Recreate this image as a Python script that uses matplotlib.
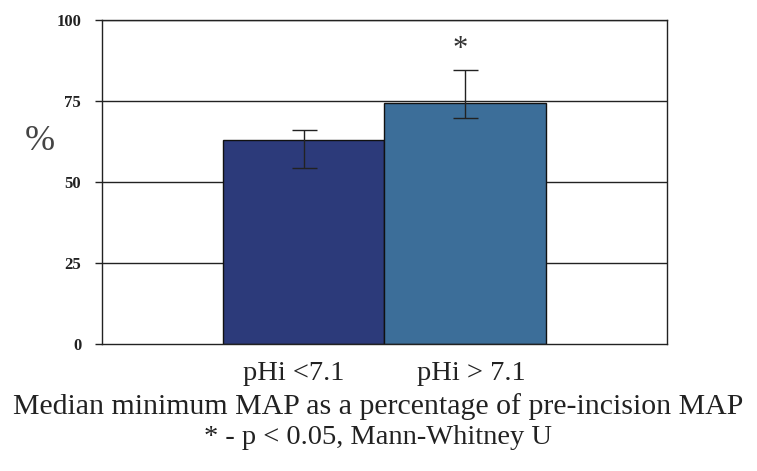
import matplotlib.pyplot as plt
import matplotlib.transforms as mtransforms
import numpy as np

# values (median with asymmetric error bars)
groups = ["pHi <7.1", "pHi > 7.1"]
medians = [63, 74.5]
err_low = [54.3, 69.8]
err_high = [66, 84.6]
bar_colors = ["#2c3a7a", "#3c6e99"]
yticks = [0, 25, 50, 75, 100]

plt.rcParams["font.family"] = ["Liberation Serif", "DejaVu Serif"]

fig = plt.figure(figsize=(7.57, 4.71), dpi=100)
ax = fig.add_axes([102 / 757, 1 - 344 / 471, 565 / 757, 324 / 471])

x = np.arange(len(groups))
lower = np.array(medians) - np.array(err_low)
upper = np.array(err_high) - np.array(medians)

ax.bar(x, medians, width=1.0, color=bar_colors, edgecolor="#111111",
       linewidth=1.0, zorder=2)
ax.errorbar(x, medians, yerr=[lower, upper], fmt="none", ecolor="#222222",
            elinewidth=1.0, capsize=9, capthick=1.0, zorder=3)

# significance marker
ax.text(x[1] - 0.03, 91, "*", ha="center", va="center", fontsize=22,
        color="#333333")

ax.set_xlim(-1.25, 2.25)
ax.set_ylim(0, 100)
ax.set_yticks(yticks)
ax.set_yticklabels([str(t) for t in yticks], fontsize=12, fontweight="bold")
for t in yticks[1:]:
    ax.axhline(t, color="#222222", linewidth=1.0, zorder=1)

ax.set_xticks(x)
ax.set_xticklabels(groups, fontsize=20.5, color="#222222")
ax.tick_params(axis="x", length=0, pad=12)
ax.tick_params(axis="y", length=5, width=1, pad=10, colors="#222222")

# labels in the original sit a little off the bar centres
for lab, dx in zip(ax.get_xticklabels(), [-10, 6]):
    off = mtransforms.ScaledTranslation(dx / 100, 0, fig.dpi_scale_trans)
    lab.set_transform(lab.get_transform() + off)

for s in ax.spines.values():
    s.set_color("#222222")
    s.set_linewidth(1.0)

fig.text(40 / 757, 1 - 142 / 471, "%", fontsize=26, ha="center", va="center",
         color="#444444")

fig.text(0.5, 1 - 407 / 471, "Median minimum MAP as a percentage of pre-incision MAP",
         fontsize=21.5, ha="center", va="center", color="#222222")
fig.text(0.5, 1 - 438 / 471, "* - p < 0.05, Mann-Whitney U",
         fontsize=20.5, ha="center", va="center", color="#222222")

fig.savefig("out.png", dpi=100)
